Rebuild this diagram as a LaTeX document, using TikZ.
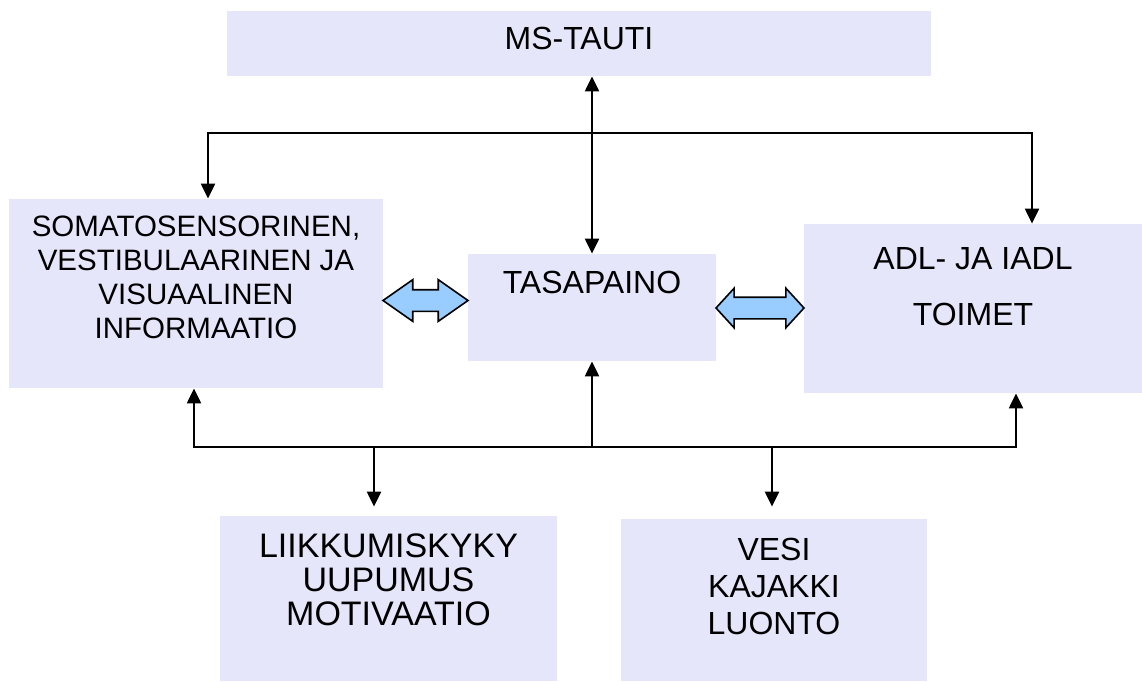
\documentclass[tikz,border=0pt]{standalone}
\usepackage{fontspec}
\setmainfont{Liberation Sans}
\usetikzlibrary{arrows.meta,positioning,shapes.arrows,calc}
\definecolor{boxfill}{RGB}{230,230,250}
\definecolor{arrowfill}{RGB}{153,204,255}

\begin{document}
\begin{tikzpicture}[x=0.5pt,y=-0.5pt,>={Triangle[length=7.5pt,width=7pt]},
	box/.style={fill=boxfill,inner sep=0pt},
	txt/.style={inner sep=0pt,align=center,font=\fontsize{16}{17}\selectfont},
	link/.style={line width=1.1pt},
	dblarrow/.style={double arrow,draw=black,fill=arrowfill,line width=0.8pt,inner xsep=0pt,inner ysep=5pt,double arrow head extend=5pt}]
			\useasboundingbox (0,0) rectangle (1142,681);
			\node[box,minimum width=352pt,minimum height=32.5pt] (ms) at (579,43.5) {}; % disease box
			\node[box,minimum width=187pt,minimum height=94.5pt] (soma) at (196,293.5) {}; % senses box
			\node[box,minimum width=124pt,minimum height=53.5pt] (tasa) at (592,307.5) {}; % balance box
			\node[box,minimum width=169pt,minimum height=84.5pt] (adl) at (973,308.5) {}; % adl box
			\node[box,minimum width=168.5pt,minimum height=82.5pt] (liik) at (388.5,598.5) {}; % lower left box
			\node[box,minimum width=153pt,minimum height=81pt] (vesi) at (774,600) {}; % lower right box
			\node[txt,below=8pt of ms.north] (mstxt) {MS-TAUTI};
			\node[txt,font=\fontsize{14.75}{16.9}\selectfont,below=8.5pt of soma.north] (somatxt) {SOMATOSENSORINEN,\\VESTIBULAARINEN JA\\VISUAALINEN\\INFORMAATIO};
			\node[txt,below=8.5pt of tasa.north] (tasatxt) {TASAPAINO};
			\node[txt,font=\fontsize{16}{28}\selectfont,below=11.5pt of adl.north] (adltxt) {ADL- JA IADL\\TOIMET};
			\node[txt,font=\fontsize{17}{17}\selectfont,below=9pt of liik.north] (liiktxt) {LIIKKUMISKYKY\\UUPUMUS\\MOTIVAATIO};
			\node[txt,font=\fontsize{16}{18.5}\selectfont,below=9.5pt of vesi.north] (vesitxt) {VESI\\KAJAKKI\\LUONTO};
			\node[dblarrow,minimum height=42.5pt,double arrow tip angle=70] (arr1) at ($(soma.east)!.5!(tasa.west)$) {}; % wide arrow left
			\node[dblarrow,minimum height=44pt,double arrow tip angle=95,double arrow head extend=4.5pt] (arr2) at ($(tasa.east)!.5!(adl.west)$) {}; % wide arrow right
			\coordinate (topL) at (208,133);
			\coordinate (topR) at (1032,133);
			\coordinate (botL) at (194,447);
			\coordinate (botR) at (1016,447);
			\coordinate (drop1) at (374,447);
			\coordinate (drop2) at (772,447);
			\draw[link,<->] (tasa.north |- ms.south) -- (tasa.north); % disease to balance
			\draw[link,<->] (topL |- soma.north) -- (topL) -- (topR) -- (topR |- adl.north); % upper line
			\draw[link,<->] (botL |- soma.south) -- (botL) -- (botR) -- (botR |- adl.south); % lower line
			\draw[link,->] (tasa.south |- botL) -- (tasa.south);
			\draw[link,->,shorten >=4.5pt] (drop1) -- (drop1 |- liik.north);
			\draw[link,->,shorten >=6pt] (drop2) -- (drop2 |- vesi.north);
\end{tikzpicture}
\end{document}
